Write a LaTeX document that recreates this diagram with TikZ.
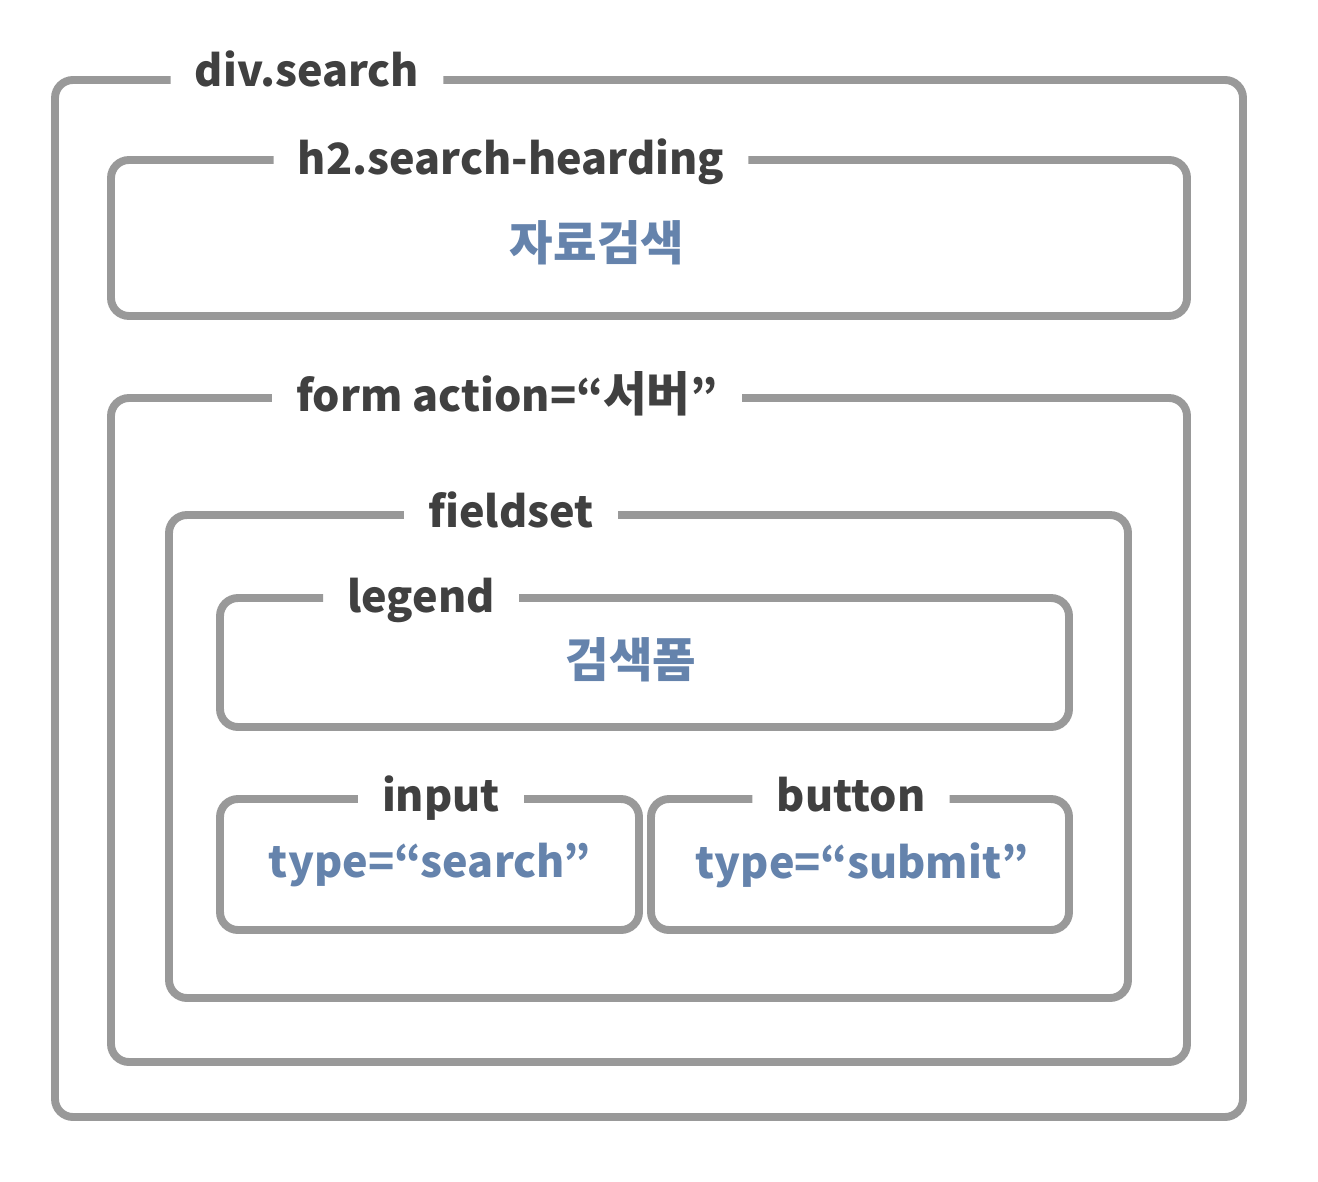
\documentclass[tikz,border=0pt]{standalone}
\usepackage{fontspec}
\setmainfont{Noto Sans CJK KR}
\newfontfamily\krbig{Noto Sans CJK KR}[Scale=1.1]
\usepackage{tikz}
\definecolor{boxGray}{HTML}{999999}
\definecolor{tagDark}{HTML}{404040}
\definecolor{textBlue}{HTML}{6583AC}
\begin{document}
\begin{tikzpicture}[
  x=0.02cm, y=-0.02cm,
  frame/.style={draw=boxGray, line width=4.5pt, rounded corners=0.36cm},
  tag/.style={font=\fontsize{24.5}{28}\selectfont\bfseries, text=tagDark,
    inner xsep=0.48cm, inner ysep=0pt, anchor=base},
  content/.style={font=\fontsize{24.5}{28}\selectfont\bfseries, text=textBlue},
]
\useasboundingbox (0,0) rectangle (1318,1182);

% div.search
\node[tag] (divT) at (307,87) {div.search};
\draw[frame] (divT.east |- 0,80) -- (1243,80) -- (1243,1117)
  -- (55,1117) -- (55,80) -- (divT.west |- 0,80);

% h2.search-hearding
\node[tag] (h2T) at (511,175) {h2.search-hearding};
\draw[frame] (h2T.east |- 0,160) -- (1187,160) -- (1187,316)
  -- (111,316) -- (111,160) -- (h2T.west |- 0,160);
\node[content] (h2C) at (597,243) {\krbig 자료검색};

% form
\node[tag] (formT) at (507,411) {form action=“{\krbig 서버}”};
\draw[frame] (formT.east |- 0,398) -- (1187,398) -- (1187,1062)
  -- (111,1062) -- (111,398) -- (formT.west |- 0,398);

% fieldset
\node[tag] (fsT) at (511,527) {fieldset};
\draw[frame] (fsT.east |- 0,515) -- (1128,515) -- (1128,998)
  -- (169,998) -- (169,515) -- (fsT.west |- 0,515);

% legend
\node[tag] (lgT) at (421,612) {legend};
\draw[frame] (lgT.east |- 0,598) -- (1069,598) -- (1069,727)
  -- (220,727) -- (220,598) -- (lgT.west |- 0,598);
\node[content] (lgC) at (631,660) {\krbig 검색폼};

% input
\node[tag] (inT) at (441,811) {input};
\draw[frame] (inT.east |- 0,799) -- (639,799) -- (639,930)
  -- (220,930) -- (220,799) -- (inT.west |- 0,799);
\node[content] (inC) at (430,865) {type=“search”};

% button
\node[tag] (btT) at (851,811) {button};
\draw[frame] (btT.east |- 0,799) -- (1069,799) -- (1069,930)
  -- (651,930) -- (651,799) -- (btT.west |- 0,799);
\node[content] (btC) at (862,865) {type=“submit”};
\end{tikzpicture}
\end{document}
